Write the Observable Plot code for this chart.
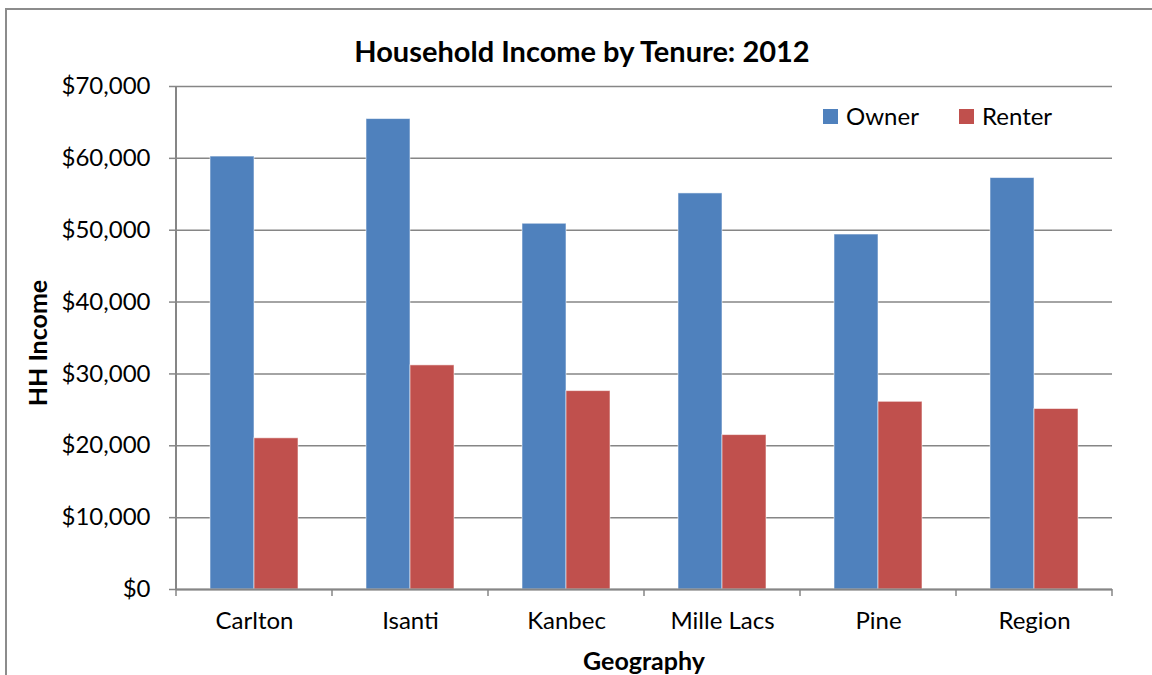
<!DOCTYPE html>
<html>
<head>
<meta charset="utf-8">
<script src="https://cdn.jsdelivr.net/npm/d3@7"></script>
<script src="https://cdn.jsdelivr.net/npm/@observablehq/plot@0.6"></script>
<style>
  html, body { margin: 0; padding: 0; background: #fff; }
  #wrap { position: relative; width: 1152px; height: 675px; overflow: hidden; font-family: Lato, "Open Sans", sans-serif; color: #000; }
  #frame { position: absolute; left: 5px; top: 8px; width: 1200px; height: 720px; border: 2px solid #8c8c8c; box-sizing: border-box; }
  #chart { position: absolute; left: 0; top: 0; }
  .title { position: absolute; left: 0; width: 1164px; top: 50px; transform: translateY(-50%); text-align: center; font-weight: bold; font-size: 29px; line-height: 1; }
  .ytitle { position: absolute; left: 37px; top: 343px; transform: translate(-50%, -50%) rotate(-90deg); font-weight: bold; font-size: 25px; white-space: nowrap; line-height: 1; }
  .xtitle { position: absolute; left: 644px; top: 660px; transform: translate(-50%, -50%); font-weight: bold; font-size: 25px; white-space: nowrap; line-height: 1; }
  .legend { position: absolute; top: 116px; transform: translateY(-50%); font-size: 24px; display: flex; align-items: center; white-space: nowrap; line-height: 1; }
  .legend .sw { width: 15px; height: 15px; margin-right: 8px; }
</style>
</head>
<body>
<div id="wrap">
  <div id="frame"></div>
  <div id="chart"></div>
  <div class="title">Household Income by Tenure: 2012</div>
  <div class="ytitle">HH Income</div>
  <div class="xtitle">Geography</div>
</div>
<script>
const categories = ["Carlton", "Isanti", "Kanbec", "Mille Lacs", "Pine", "Region"];
const owner  = [60250, 65470, 50900, 55120, 49400, 57260];
const renter = [21040, 31190, 27610, 21490, 26120, 25120];
const series = ["Owner", "Renter"];
const seriesColors = ["#4F81BD", "#C0504D"];
const yTicks = [0, 10000, 20000, 30000, 40000, 50000, 60000, 70000];
const legendX = [823, 959];

const data = categories.flatMap((c, i) => [
  {geo: c, tenure: "Owner", value: owner[i]},
  {geo: c, tenure: "Renter", value: renter[i]}
]);

const axisGray = "#868686";

const chart = Plot.plot({
  width: 1152,
  height: 675,
  marginLeft: 174,
  marginRight: 38,
  marginTop: 86,
  marginBottom: 86,
  style: {fontFamily: 'Lato, "Open Sans", sans-serif', fontSize: "24px", color: "#000", background: "transparent", overflow: "visible"},
  fx: {domain: categories, padding: 0, label: null},
  x: {domain: series, paddingInner: 0, paddingOuter: 0.76, axis: null},
  y: {domain: [0, 70000], label: null},
  color: {domain: series, range: seriesColors},
  marks: [
    Plot.gridY(yTicks, {stroke: axisGray, strokeOpacity: 1, strokeWidth: 1.5}),
    Plot.barY(data, {fx: "geo", x: "tenure", y: "value", fill: "tenure", stroke: "#ffffff", strokeOpacity: 0.55, strokeWidth: 1}),
    Plot.ruleY([0], {stroke: axisGray, strokeWidth: 2}),
    Plot.axisY({ticks: yTicks, tickFormat: d3.format("$,"), tickSize: 7, tickPadding: 19, stroke: axisGray, strokeWidth: 1.5, fill: "#000", label: null}),
    Plot.axisFx({anchor: "bottom", tickSize: 0, tickPadding: 22, label: null, fill: "#000"})
  ]
});
document.getElementById("chart").appendChild(chart);

// Axis line on the left and category boundary ticks, positioned from Plot's own scales
const fx = chart.scale("fx");
const ys = chart.scale("y");
const svg = d3.select(chart);
const y0 = ys.apply(0), yTop = ys.apply(70000);
const xLeft = fx.apply(categories[0]);
const bounds = categories.map(c => fx.apply(c)).concat([fx.apply(categories[categories.length - 1]) + fx.bandwidth]);
svg.append("line").attr("x1", xLeft).attr("x2", xLeft).attr("y1", yTop).attr("y2", y0)
  .attr("stroke", axisGray).attr("stroke-width", 2);
svg.selectAll("line.bt").data(bounds).join("line").attr("class", "bt")
  .attr("x1", d => d).attr("x2", d => d).attr("y1", y0).attr("y2", y0 + 7)
  .attr("stroke", axisGray).attr("stroke-width", 1.5);

// Legend
const wrap = document.getElementById("wrap");
series.forEach((s, i) => {
  const d = document.createElement("div");
  d.className = "legend";
  d.style.left = legendX[i] + "px";
  d.innerHTML = `<div class="sw" style="background:${seriesColors[i]}"></div><span>${s}</span>`;
  wrap.appendChild(d);
});
</script>
</body>
</html>
